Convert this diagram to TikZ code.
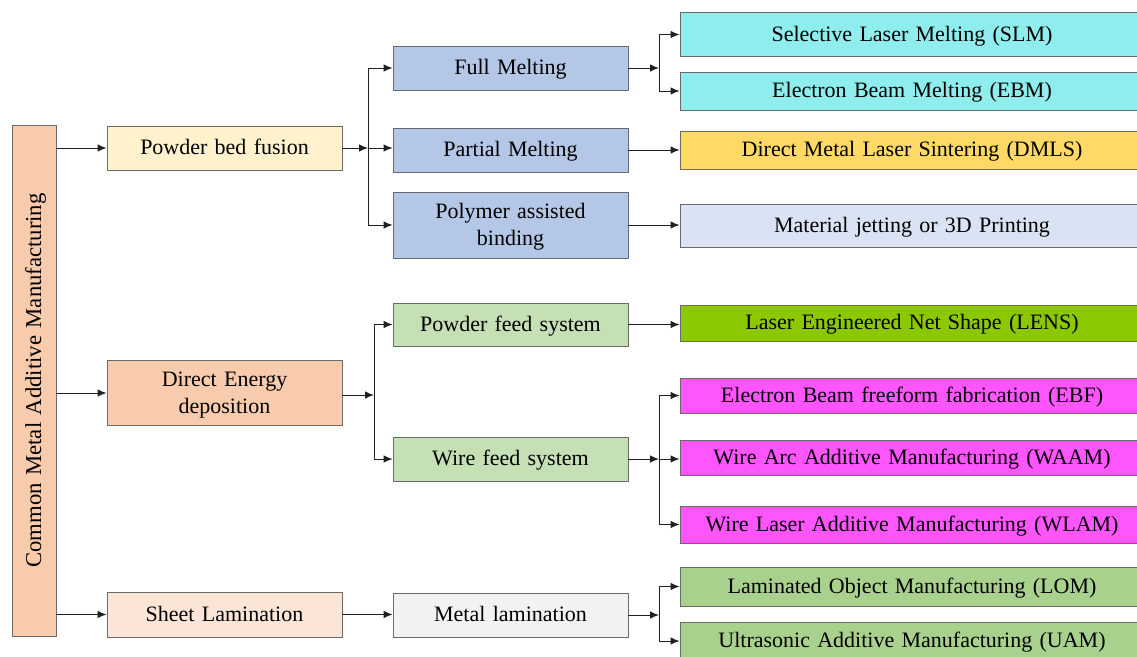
\documentclass[tikz,border=0pt]{standalone}
\usepackage{fontspec}
\setmainfont{Liberation Serif}
\usetikzlibrary{arrows.meta}
\definecolor{cPeach}{HTML}{F8CBAD}
\definecolor{cCream}{HTML}{FFF2CC}
\definecolor{cPink}{HTML}{FBE5D6}
\definecolor{cBlue}{HTML}{B4C7E7}
\definecolor{cCyan}{HTML}{8FEDED}
\definecolor{cGold}{HTML}{FFD966}
\definecolor{cPale}{HTML}{DAE3F3}
\definecolor{cLgreen}{HTML}{C5E0B4}
\definecolor{cLime}{HTML}{8CC800}
\definecolor{cMag}{HTML}{FF55FF}
\definecolor{cGreen}{HTML}{A9D18E}
\definecolor{cGrey}{HTML}{F2F2F2}
\definecolor{cEdge}{HTML}{6A6A6A}
\definecolor{cLine}{HTML}{202020}
\newcommand\myboxfont{\fontsize{22}{27}\selectfont\spaceskip=0.33em\relax}
\newcommand\myrootfont{\fontsize{22.7}{26}\selectfont\spaceskip=0.33em\relax}
\newcommand\mystrut{\rule[-4.5pt]{0pt}{22.5pt}}
\tikzset{
  box/.style={draw=cEdge, line width=0.9pt, inner sep=0pt, align=center,
    font=\myboxfont, execute at begin node=\mystrut},
  lone/.style={box, minimum width=235pt},
  lthree/.style={box, minimum width=464pt},
  arr/.style={draw=cLine, line width=1pt, -{Latex[length=9pt,width=7.5pt]}},
  ln/.style={draw=cLine, line width=1pt},
}
\begin{document}
\begin{tikzpicture}[x=1pt,y=-1pt]
\useasboundingbox (0,0) rectangle (1137,656);
\clip (0,0) rectangle (1137,656);
% root
\node[draw=cEdge, line width=0.9pt, fill=cPeach, inner sep=0pt, minimum width=44pt, minimum height=511pt] (root) at (34,380.5) {};
\node[font=\myrootfont, rotate=90, inner sep=0pt] (roottxt) at (35.5,380.5) {Common Metal Additive Manufacturing};
% level 1
\node[lone, fill=cCream, minimum height=44pt] (pbf) at (224.5,148) {Powder bed fusion};
\node[lone, fill=cPeach, minimum height=65pt, text width=220pt] (ded) at (224.5,393) {Direct Energy\\\mystrut deposition};
\node[lone, fill=cPink, minimum height=45pt] (sl) at (224.5,614.5) {Sheet Lamination};
% level 2
\node[lone, fill=cBlue, minimum height=44pt] (fm) at (510.5,68) {Full Melting};
\node[lone, fill=cBlue, minimum height=44pt] (pm) at (510.5,150) {Partial Melting};
\node[lone, fill=cBlue, minimum height=66pt, text width=220pt] (pab) at (510.5,225) {Polymer assisted\\\mystrut binding};
\node[lone, fill=cLgreen, minimum height=43pt] (pfs) at (510.5,324.5) {Powder feed system};
\node[lone, fill=cLgreen, minimum height=44pt] (wfs) at (510.5,459) {Wire feed system};
\node[lone, fill=cGrey, minimum height=44pt] (ml) at (510.5,615) {Metal lamination};
% level 3
\node[lthree, fill=cCyan, minimum height=44pt] (slm) at (912,34.5) {Selective Laser Melting (SLM)};
\node[lthree, fill=cCyan, minimum height=38pt] (ebm) at (912,91) {Electron Beam Melting (EBM)};
\node[lthree, fill=cGold, minimum height=38pt] (dmls) at (912,150) {Direct Metal Laser Sintering (DMLS)};
\node[lthree, fill=cPale, minimum height=43pt] (mj) at (912,225.5) {Material jetting or 3D Printing};
\node[lthree, fill=cLime, minimum height=36pt] (lens) at (912,323) {Laser Engineered Net Shape (LENS)};
\node[lthree, fill=cMag, minimum height=35pt] (ebf) at (912,395.5) {Electron Beam freeform fabrication (EBF)};
\node[lthree, fill=cMag, minimum height=35pt] (waam) at (912,457.5) {Wire Arc Additive Manufacturing (WAAM)};
\node[lthree, fill=cMag, minimum height=37pt] (wlam) at (912,524.5) {Wire Laser Additive Manufacturing (WLAM)};
\node[lthree, fill=cGreen, minimum height=39pt] (lom) at (912,586.5) {Laminated Object Manufacturing (LOM)};
\node[lthree, fill=cGreen, minimum height=38pt] (uam) at (912,641) {Ultrasonic Additive Manufacturing (UAM)};
% junction coordinates
\coordinate (j1) at (368,148);
\coordinate (j2) at (374,395);
\coordinate (j3) at (659,68);
\coordinate (j4) at (659,459);
\coordinate (j5) at (659,615);
% root to level 1
\draw[arr] (root.east |- pbf.west) -- (pbf.west);
\draw[arr] (root.east |- ded.west) -- (ded.west);
\draw[arr] (root.east |- sl.west) -- (sl.west);
% powder bed fusion
\draw[arr] (pbf.east) -- (j1);
\draw[ln] (j1 |- fm.west) -- (j1 |- pab.west);
\draw[arr] (j1 |- fm.west) -- (fm.west);
\draw[arr] (j1) -- (j1 -| pm.west);
\draw[arr] (j1 |- pab.west) -- (pab.west);
% full melting
\draw[arr] (fm.east) -- (j3);
\draw[ln] (j3 |- slm.west) -- (j3 |- ebm.west);
\draw[arr] (j3 |- slm.west) -- (slm.west);
\draw[arr] (j3 |- ebm.west) -- (ebm.west);
\draw[arr] (pm.east) -- (pm.east -| dmls.west);
\draw[arr] (pab.east) -- (pab.east -| mj.west);
% DED
\draw[arr] (ded.east |- j2) -- (j2);
\draw[ln] (j2 |- pfs.west) -- (j2 |- wfs.west);
\draw[arr] (j2 |- pfs.west) -- (pfs.west);
\draw[arr] (j2 |- wfs.west) -- (wfs.west);
\draw[arr] (pfs.east) -- (pfs.east -| lens.west);
% wire feed
\draw[arr] (wfs.east) -- (j4);
\draw[ln] (j4 |- ebf.west) -- (j4 |- wlam.west);
\draw[arr] (j4 |- ebf.west) -- (ebf.west);
\draw[arr] (j4) -- (j4 -| waam.west);
\draw[arr] (j4 |- wlam.west) -- (wlam.west);
% sheet lamination
\draw[arr] (sl.east) -- (sl.east -| ml.west);
\draw[arr] (ml.east) -- (j5);
\draw[ln] (j5 |- lom.west) -- (j5 |- uam.west);
\draw[arr] (j5 |- lom.west) -- (lom.west);
\draw[arr] (j5 |- uam.west) -- (uam.west);
\end{tikzpicture}
\end{document}
